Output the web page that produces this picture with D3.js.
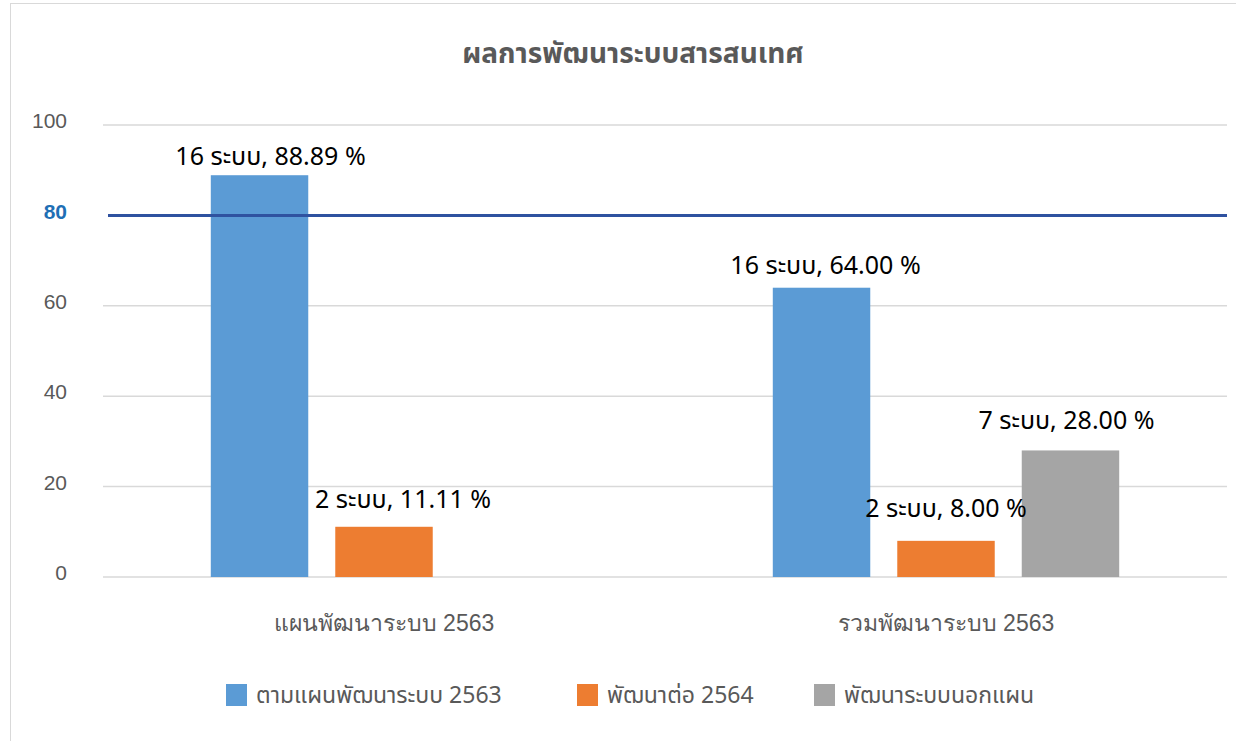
<!DOCTYPE html>
<html><head><meta charset="utf-8">
<script src="https://cdn.jsdelivr.net/npm/d3@7"></script>
<style>
html,body{margin:0;padding:0;background:#fff;}
svg{display:block;font-family:"Noto Sans Thai","Noto Sans","DejaVu Sans",sans-serif;}
</style></head>
<body>
<svg id="chart" width="1236" height="741"></svg>
<script>
const title = "ผลการพัฒนาระบบสารสนเทศ";
const categories = ["แผนพัฒนาระบบ 2563", "รวมพัฒนาระบบ 2563"];
const seriesNames = ["ตามแผนพัฒนาระบบ 2563", "พัฒนาต่อ 2564", "พัฒนาระบบนอกแผน"];
const seriesPlan = [88.89, 64.00];
const seriesContinue = [11.11, 8.00];
const seriesOutside = [null, 28.00];
const countsPlan = [16, 16];
const countsContinue = [2, 2];
const countsOutside = [null, 7];
const yTicks = [0, 20, 40, 60, 80, 100];
const targetValue = 80;

const colors = ["#5b9bd5", "#ed7d31", "#a5a5a5"];
// manual label nudges (as in the original chart) [dx, dy]
const labelNudge = [
  [[11, -10], [19, -19], [0, 0]],
  [[4, -14], [0, -24], [-4, -21]]
];

const svg = d3.select("#chart");
const W = 1236, H = 741;
svg.append("rect").attr("x", 10.5).attr("y", 3.5).attr("width", W).attr("height", H)
  .attr("fill", "#fff").attr("stroke", "#d9d9d9").attr("stroke-width", 1);

const x0 = d3.scaleBand().domain(categories).range([103, 1227]).paddingInner(0).paddingOuter(0);
const x1 = d3.scaleBand().domain(d3.range(3)).range([0, x0.bandwidth()]).paddingOuter(0.866).paddingInner(0.217);
const y = d3.scaleLinear().domain([0, 100]).range([577, 125]);

// title
svg.append("text").attr("x", 633).attr("y", 63).attr("text-anchor", "middle")
  .attr("font-size", 28).attr("font-weight", "bold").attr("fill", "#595959").text(title);

// grid
const g = svg.append("g");
g.selectAll("line.grid").data(yTicks.filter(t => t !== targetValue)).join("line")
  .attr("x1", 103).attr("x2", 1227).attr("y1", d => y(d)).attr("y2", d => y(d))
  .attr("stroke", "#d9d9d9").attr("stroke-width", 1.5);

// y axis labels
const yAxis = d3.axisLeft(y).tickValues(yTicks).tickSize(0).tickPadding(0);
const ya = svg.append("g").attr("transform", "translate(67,-4)").call(yAxis);
ya.select(".domain").remove();
ya.selectAll("text").attr("font-size", 21).attr("font-family", "inherit")
  .attr("fill", d => d === targetValue ? "#1f6fb5" : "#595959")
  .attr("font-weight", d => d === targetValue ? "bold" : "normal");

// bars
const series = [seriesPlan, seriesContinue, seriesOutside];
const counts = [countsPlan, countsContinue, countsOutside];
const barData = [];
categories.forEach((c, ci) => {
  series.forEach((s, si) => {
    if (s[ci] != null) barData.push({c, ci, si, v: s[ci], n: counts[si][ci]});
  });
});
svg.selectAll("rect.bar").data(barData).join("rect")
  .attr("x", d => x0(d.c) + x1(d.si)).attr("width", x1.bandwidth())
  .attr("y", d => y(d.v)).attr("height", d => y(0) - y(d.v))
  .attr("fill", d => colors[d.si]);

// target line
svg.append("line").attr("x1", 108).attr("x2", 1227).attr("y1", y(targetValue)).attr("y2", y(targetValue))
  .attr("stroke", "#2f52a0").attr("stroke-width", 3);

// data labels
svg.selectAll("text.lbl").data(barData).join("text")
  .attr("x", d => x0(d.c) + x1(d.si) + x1.bandwidth() / 2 + labelNudge[d.ci][d.si][0])
  .attr("y", d => y(d.v) + labelNudge[d.ci][d.si][1])
  .attr("text-anchor", "middle").attr("font-size", 25).attr("fill", "#000")
  .text(d => `${d.n} ระบบ, ${d.v.toFixed(2)} %`);

// x axis labels
const xAxis = d3.axisBottom(x0).tickSize(0).tickPadding(0);
const xa = svg.append("g").attr("transform", "translate(0,631)").call(xAxis);
xa.select(".domain").remove();
xa.selectAll("text").attr("font-size", 23).attr("font-family", "inherit").attr("fill", "#595959").attr("dy", 0);

// legend
const legendX = [226, 577, 814];
const lg = svg.selectAll("g.leg").data(seriesNames).join("g")
  .attr("transform", (d, i) => `translate(${legendX[i]},684)`);
lg.append("rect").attr("width", 21).attr("height", 22).attr("fill", (d, i) => colors[i]);
lg.append("text").attr("x", 30).attr("y", 19).attr("font-size", 23).attr("fill", "#595959").text(d => d);
</script>
</body></html>
